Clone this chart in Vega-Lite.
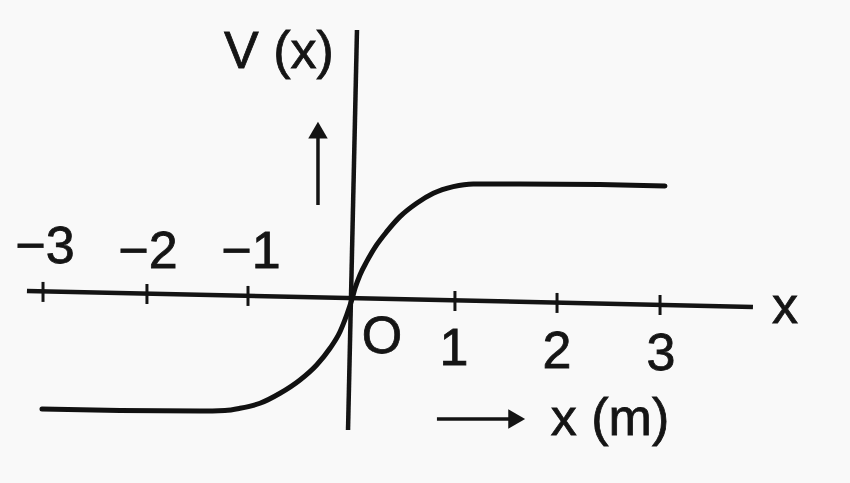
{
  "$schema": "https://vega.github.io/schema/vega-lite/v6.json",
  "width": 850,
  "height": 483,
  "autosize": {"type": "fit", "contains": "padding"},
  "padding": 0,
  "background": "#f9f9f9",
  "config": {"view": {"stroke": null}},
  "datasets": {
    "curve": [
      {"x": -2.993, "v": -1.087}, {"x": -2.235, "v": -1.102}, {"x": -1.458, "v": -1.107},
      {"x": -1.215, "v": -1.102}, {"x": -1.069, "v": -1.081}, {"x": -0.875, "v": -1.032},
      {"x": -0.680, "v": -0.935}, {"x": -0.486, "v": -0.806}, {"x": -0.324, "v": -0.660},
      {"x": -0.194, "v": -0.498}, {"x": -0.097, "v": -0.337}, {"x": -0.032, "v": -0.175},
      {"x": 0.017, "v": -0.029}, {"x": 0.049, "v": 0.084}, {"x": 0.097, "v": 0.214},
      {"x": 0.162, "v": 0.343}, {"x": 0.259, "v": 0.505}, {"x": 0.357, "v": 0.634},
      {"x": 0.486, "v": 0.780}, {"x": 0.648, "v": 0.910}, {"x": 0.810, "v": 1.007},
      {"x": 1.004, "v": 1.071}, {"x": 1.198, "v": 1.097}, {"x": 1.652, "v": 1.097},
      {"x": 2.430, "v": 1.092}, {"x": 3.061, "v": 1.078}
    ],
    "axes": [
      {"axis": "x", "x": -3.139, "v": 0.058}, {"axis": "x", "x": 3.916, "v": -0.097},
      {"axis": "v", "x": 0.068, "v": 2.592}, {"axis": "v", "x": -0.019, "v": -1.291}
    ],
    "ticks": [
      {"x": -2.983, "v1": -0.048, "v2": 0.146},
      {"x": -1.973, "v1": -0.068, "v2": 0.126},
      {"x": -0.991, "v1": -0.087, "v2": 0.107},
      {"x": 1.020, "v1": -0.136, "v2": 0.058},
      {"x": 2.012, "v1": -0.155, "v2": 0.039},
      {"x": 3.013, "v1": -0.175, "v2": 0.019}
    ],
    "labels": [
      {"label": "−3", "x": -2.964, "v": 0.330},
      {"label": "−2", "x": -1.963, "v": 0.282},
      {"label": "−1", "x": -0.962, "v": 0.282},
      {"label": "O", "x": 0.311, "v": -0.544},
      {"label": "1", "x": 1.011, "v": -0.660},
      {"label": "2", "x": 2.012, "v": -0.689},
      {"label": "3", "x": 3.022, "v": -0.709},
      {"label": "x", "x": 4.227, "v": -0.252},
      {"label": "V (x)", "x": -0.690, "v": 2.223},
      {"label": "x (m)", "x": 2.527, "v": -1.340}
    ],
    "shafts": [
      {"x": -0.311, "v": 0.893, "x2": -0.311, "v2": 1.58},
      {"x": 0.845, "v": -1.184, "x2": 1.57, "v2": -1.184}
    ],
    "heads": [
      {"dir": "up", "x": -0.311, "v": 1.62},
      {"dir": "right", "x": 1.62, "v": -1.184}
    ]
  },
  "encoding": {
    "x": {"field": "x", "type": "quantitative", "scale": {"domain": [-3.401, 4.859], "nice": false, "zero": false}, "axis": null},
    "y": {"field": "v", "type": "quantitative", "scale": {"domain": [-1.806, 2.883], "nice": false, "zero": false}, "axis": null}
  },
  "layer": [
    {
      "data": {"name": "axes"},
      "mark": {"type": "line", "color": "#141414", "strokeWidth": 4.5, "strokeCap": "butt"},
      "encoding": {"detail": {"field": "axis", "type": "nominal"}}
    },
    {
      "data": {"name": "ticks"},
      "mark": {"type": "rule", "color": "#141414", "strokeWidth": 3},
      "encoding": {
        "y": {"field": "v1", "type": "quantitative"},
        "y2": {"field": "v2"}
      }
    },
    {
      "data": {"name": "curve"},
      "mark": {"type": "line", "color": "#111111", "strokeWidth": 5, "interpolate": "monotone", "strokeCap": "round"},
      "encoding": {}
    },
    {
      "data": {"name": "shafts"},
      "mark": {"type": "rule", "color": "#141414", "strokeWidth": 3.5},
      "encoding": {
        "x2": {"field": "x2"},
        "y2": {"field": "v2"}
      }
    },
    {
      "data": {"name": "heads"},
      "mark": {"type": "point", "filled": true, "opacity": 1, "color": "#141414", "size": 380},
      "encoding": {
        "shape": {"field": "dir", "type": "nominal", "scale": {"domain": ["up", "right"], "range": ["triangle-up", "triangle-right"]}, "legend": null}
      }
    },
    {
      "data": {"name": "labels"},
      "mark": {"type": "text", "font": "Liberation Sans", "fontSize": 52, "color": "#151515", "stroke": "#151515", "strokeWidth": 0.8, "align": "center", "baseline": "alphabetic"},
      "encoding": {"text": {"field": "label", "type": "nominal"}}
    }
  ]
}
